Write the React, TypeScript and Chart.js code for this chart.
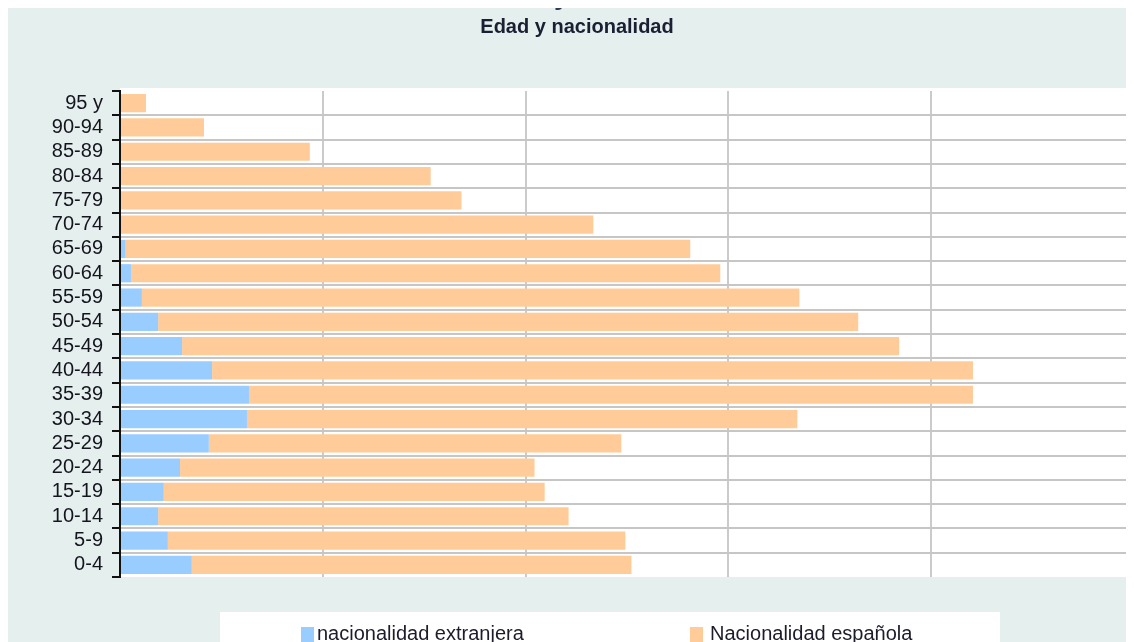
import React, { useEffect, useRef } from "react";
import { Chart, registerables } from "chart.js";

Chart.register(...registerables);

const ageGroups = ["95 y", "90-94", "85-89", "80-84", "75-79", "70-74", "65-69", "60-64", "55-59", "50-54", "45-49", "40-44", "35-39", "30-34", "25-29", "20-24", "15-19", "10-14", "5-9", "0-4"];
const foreignValues = [0, 0, 0, 0, 0, 4, 14, 27, 54, 94, 153, 227, 318, 313, 219, 148, 108, 94, 118, 177];
const spanishValues = [64, 207, 468, 766, 842, 1163, 1392, 1453, 1621, 1726, 1768, 1876, 1785, 1357, 1017, 874, 939, 1012, 1128, 1084];
const seriesNames = ["nacionalidad extranjera", "Nacionalidad española"];
const seriesColors = ["#99ccff", "#ffcc99"];
const xMax = 2500;
const xStep = 500;

const FONT = "'Liberation Sans', Arial, sans-serif";
const BG = "#e5efed";

const backgroundPlugin = {
  id: "bgPanel",
  beforeDraw(chart: any) {
    const { ctx, width, height, chartArea } = chart;
    ctx.save();
    ctx.fillStyle = BG;
    ctx.fillRect(0, 0, width, height);
    ctx.fillStyle = "#ffffff";
    ctx.fillRect(chartArea.left, chartArea.top - 3, width - chartArea.left, chartArea.bottom - chartArea.top + 3);
    ctx.restore();
  },
};

const legendPlugin = {
  id: "customLegend",
  afterDraw(chart: any) {
    const { ctx, height } = chart;
    ctx.save();
    ctx.fillStyle = "#ffffff";
    ctx.fillRect(212, 604, 780, height - 604);
    const items = [
      { sx: 293, tx: 309 },
      { sx: 682, tx: 702 },
    ];
    chart.data.datasets.forEach((ds: any, i: number) => {
      const it = items[i];
      ctx.fillStyle = ds.backgroundColor;
      ctx.fillRect(it.sx, 619, 13, 15);
      ctx.fillStyle = "#1c1c2a";
      ctx.font = `20px ${FONT}`;
      ctx.textBaseline = "middle";
      ctx.textAlign = "left";
      ctx.fillText(ds.label, it.tx, 626);
    });
    ctx.restore();
  },
};

export default function App() {
  const ref = useRef<HTMLCanvasElement>(null);

  useEffect(() => {
    document.body.style.overflow = "hidden";
    const canvas = ref.current!;
    const chart = new Chart(canvas, {
      type: "bar",
      data: {
        labels: ageGroups,
        datasets: [
          { label: seriesNames[0], data: foreignValues, backgroundColor: seriesColors[0], barPercentage: 0.75, categoryPercentage: 1 },
          { label: seriesNames[1], data: spanishValues, backgroundColor: seriesColors[1], barPercentage: 0.75, categoryPercentage: 1 },
        ],
      },
      options: {
        indexAxis: "y",
        animation: false,
        responsive: false,
        devicePixelRatio: 1,
        layout: { padding: { left: 12, right: 0, top: 0, bottom: 65 } },
        plugins: {
          legend: { display: false },
          tooltip: { enabled: false },
          title: {
            display: true,
            text: "Edad y nacionalidad",
            color: "#1a1f33",
            font: { size: 20, weight: "bold", family: FONT },
            padding: { top: 7, bottom: 52 },
          },
        },
        scales: {
          x: {
            stacked: true,
            min: 0,
            max: xMax,
            ticks: { display: false, stepSize: xStep },
            grid: {
              drawTicks: false,
              lineWidth: 2,
              color: (c: any) => (c.index === undefined || c.index === 0 || c.index === xMax / xStep ? "rgba(0,0,0,0)" : "#cbcbcb"),
            },
            border: { display: false },
          },
          y: {
            stacked: true,
            ticks: { color: "#15151f", font: { size: 20, family: FONT }, padding: 9, autoSkip: false },
            grid: {
              offset: true,
              lineWidth: 2,
              color: (c: any) => (c.index === undefined || c.index === 0 ? "rgba(0,0,0,0)" : "#c6c6c6"),
              tickLength: 8,
              tickColor: "#111111",
              tickWidth: 2,
            },
            border: { display: true, color: "#111111", width: 2 },
            afterFit: (s: any) => {
              s.width = 100;
            },
          },
        },
      } as any,
      plugins: [backgroundPlugin, legendPlugin],
    });
    return () => chart.destroy();
  }, []);

  return (
    <div style={{ width: 1126, height: 634, position: "relative" }}>
      <canvas ref={ref} width={1126} height={634} style={{ display: "block", width: 1126, height: 634 }} />
      <div
        style={{
          position: "absolute",
          left: 546,
          top: -29,
          zIndex: 2,
          fontFamily: FONT,
          fontWeight: "bold",
          fontSize: 28,
          color: "#2b3a55",
          lineHeight: "32px",
        }}
      >
        y
      </div>
    </div>
  );
}
